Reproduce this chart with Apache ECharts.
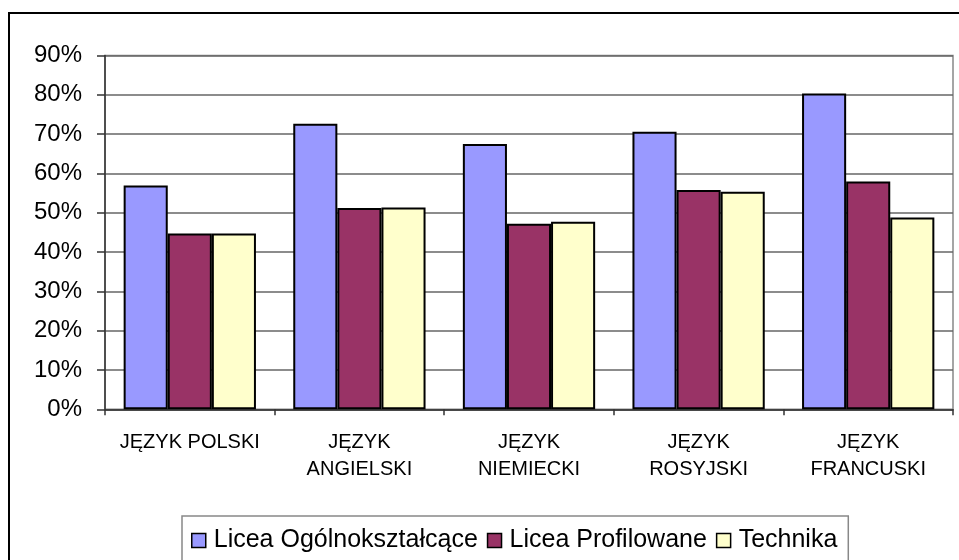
<!DOCTYPE html>
<html>
<head>
<meta charset="utf-8">
<script src="https://cdn.jsdelivr.net/npm/echarts@6/dist/echarts.min.js"></script>
<style>
html,body{margin:0;padding:0;background:#fff;}
#chart{width:959px;height:560px;}
</style>
</head>
<body>
<div id="chart"></div>
<script>
const categories = ['JĘZYK POLSKI', 'JĘZYK\nANGIELSKI', 'JĘZYK\nNIEMIECKI', 'JĘZYK\nROSYJSKI', 'JĘZYK\nFRANCUSKI'];
const seriesNames = ['Licea Ogólnokształcące', 'Licea Profilowane', 'Technika'];
const liceaOgolno = [56.9, 72.6, 67.5, 70.6, 80.3];
const liceaProfil = [44.7, 51.2, 47.2, 55.8, 57.9];
const technika = [44.7, 51.3, 47.7, 55.3, 48.8];
const yTicks = [0, 10, 20, 30, 40, 50, 60, 70, 80, 90];

const FONT = 'Arial, "Liberation Sans", sans-serif';
const chart = echarts.init(document.getElementById('chart'));

function barSeries(name, data, color) {
  return {
    name: name,
    type: 'bar',
    data: data,
    barGap: '0%',
    barCategoryGap: '22%',
    itemStyle: { color: color, borderColor: '#000', borderWidth: 2 },
    emphasis: { disabled: true }
  };
}

chart.setOption({
  animation: false,
  backgroundColor: '#fff',
  textStyle: { fontFamily: FONT },
  grid: {
    left: 105, right: 6, top: 55.4, bottom: 150.7,
    show: true, borderColor: '#888', borderWidth: 1.5
  },
  xAxis: {
    type: 'category',
    data: categories,
    axisLine: { lineStyle: { color: '#333', width: 1.5 } },
    axisTick: { show: true, length: 6, lineStyle: { color: '#333', width: 1.5 } },
    axisLabel: {
      interval: 0, margin: 20, color: '#000', fontSize: 20, lineHeight: 27,
      fontFamily: FONT, verticalAlign: 'top'
    }
  },
  yAxis: {
    type: 'value',
    min: yTicks[0], max: yTicks[yTicks.length - 1], interval: 10,
    axisLine: { show: true, lineStyle: { color: '#333', width: 1.5 } },
    axisTick: { show: true, length: 8, lineStyle: { color: '#333', width: 1.5 } },
    axisLabel: { formatter: '{value}%', color: '#000', fontSize: 24, margin: 23, fontFamily: FONT },
    splitLine: { lineStyle: { color: '#666', width: 1.5 } }
  },
  legend: {
    left: 182, top: 516,
    data: seriesNames,
    icon: 'rect',
    itemWidth: 14, itemHeight: 14,
    itemGap: 9,
    padding: [12, 11, 40, 9],
    borderColor: '#888', borderWidth: 1.5,
    textStyle: { fontSize: 25, color: '#000', fontFamily: FONT, padding: [0, 0, 0, 3] },
    itemStyle: { borderColor: '#000', borderWidth: 1.5 }
  },
  graphic: [
    { type: 'line', shape: { x1: 8, y1: 13, x2: 959, y2: 13 }, style: { stroke: '#000', lineWidth: 2 } },
    { type: 'line', shape: { x1: 9, y1: 13, x2: 9, y2: 560 }, style: { stroke: '#000', lineWidth: 2 } }
  ],
  series: [
    barSeries(seriesNames[0], liceaOgolno, '#9999FF'),
    barSeries(seriesNames[1], liceaProfil, '#993366'),
    barSeries(seriesNames[2], technika, '#FFFFCC')
  ]
});
</script>
</body>
</html>
